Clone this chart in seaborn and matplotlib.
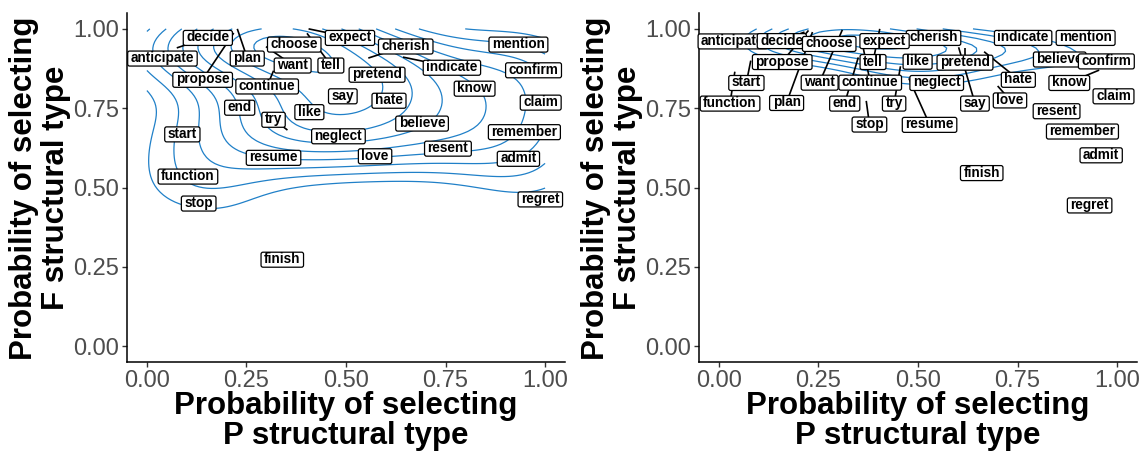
import numpy as np
import matplotlib
matplotlib.use("Agg")
import matplotlib.pyplot as plt
import matplotlib.transforms as mtransforms
from matplotlib.patches import FancyBboxPatch
import seaborn as sns

# verbs, drawn in this order (later labels sit on top of earlier ones)
words = ["anticipate", "cherish", "believe", "decide", "choose", "expect", "confirm",
         "mention", "indicate", "propose", "plan", "want", "tell", "continue",
         "pretend", "know", "say", "hate", "end", "try", "like", "claim", "start",
         "neglect", "remember", "resume", "love", "resent", "admit", "function",
         "stop", "regret", "finish"]

# left panel: P(P type), P(F type)
left_p = [0.039, 0.556, 0.691, 0.075, 0.370, 0.406, 0.971,
          0.933, 0.643, 0.218, 0.227, 0.299, 0.402, 0.318,
          0.578, 0.823, 0.492, 0.608, 0.233, 0.353, 0.408, 0.989, 0.089,
          0.481, 0.948, 0.318, 0.573, 0.756, 0.933, 0.103,
          0.130, 0.988, 0.340]
left_f = [0.908, 0.908, 0.703, 0.940, 0.952, 1.000, 0.871,
          0.952, 0.911, 0.987, 1.000, 0.944, 0.986, 0.868,
          0.857, 0.813, 0.789, 0.775, 0.753, 0.681, 0.739, 0.769, 0.669,
          0.663, 0.676, 0.595, 0.600, 0.624, 0.592, 0.536,
          0.451, 0.464, 0.274]

# right panel
right_p = [0.035, 0.539, 0.856, 0.215, 0.277, 0.416, 0.973,
           0.921, 0.764, 0.225, 0.235, 0.310, 0.404, 0.360,
           0.618, 0.955, 0.602, 0.666, 0.350, 0.456, 0.499, 0.991, 0.080,
           0.547, 0.913, 0.477, 0.700, 0.848, 0.960, 0.040,
           0.370, 0.931, 0.660]
right_f = [0.962, 0.973, 0.905, 0.990, 0.954, 0.963, 0.899,
           0.973, 0.973, 0.995, 0.990, 0.997, 1.000, 0.955,
           0.941, 0.870, 0.942, 0.928, 0.910, 0.882, 0.898, 0.789, 0.900,
           0.831, 0.678, 0.844, 0.820, 0.742, 0.603, 0.865,
           0.773, 0.445, 0.547]

# label displacement produced by the repel layout (data units)
left_repel = {"decide": (0.078, 0.033), "plan": (0.025, -0.092), "want": (0.067, -0.058),
              "tell": (0.060, -0.100), "expect": (0.104, -0.027), "propose": (-0.078, -0.146),
              "continue": (-0.016, -0.048), "cherish": (0.094, 0.038),
              "indicate": (0.123, -0.032), "try": (-0.035, 0.034)}
right_repel = {"decide": (-0.057, -0.027), "propose": (-0.066, -0.098), "plan": (-0.065, -0.222),
               "want": (-0.057, -0.165), "tell": (-0.017, -0.103), "continue": (0.020, -0.123),
               "end": (-0.034, -0.144), "try": (-0.016, -0.116), "stop": (0.008, -0.073),
               "resume": (0.052, -0.145), "say": (0.041, -0.176), "pretend": (0.0, -0.046),
               "hate": (0.086, -0.087), "love": (0.031, -0.044), "know": (-0.075, -0.039),
               "function": (-0.012, -0.099), "start": (-0.011, -0.069)}

ticks = [0.0, 0.25, 0.5, 0.75, 1.0]
tick_labels = ["0.00", "0.25", "0.50", "0.75", "1.00"]
xlab = "Probability of selecting\nP structural type"
ylab = "Probability of selecting\nF structural type"

sns.set_theme(style="white")
plt.rcParams["font.family"] = ["Liberation Sans", "DejaVu Sans"]
plt.rcParams["text.color"] = "black"


def bw_nrd(v):
    q1, q3 = np.quantile(v, [0.25, 0.75])
    return 4 * 1.06 * min(np.std(v, ddof=1), (q3 - q1) / 1.34) * len(v) ** (-0.2)


def kde2d(x, y, n=100):
    # same as MASS::kde2d on the unit square
    x, y = np.asarray(x), np.asarray(y)
    hx, hy = bw_nrd(x) / 4, bw_nrd(y) / 4
    gx = np.linspace(0, 1, n)
    gy = np.linspace(0, 1, n)
    ux = (gx[:, None] - x[None, :]) / hx
    uy = (gy[:, None] - y[None, :]) / hy
    kx = np.exp(-0.5 * ux ** 2) / np.sqrt(2 * np.pi)
    ky = np.exp(-0.5 * uy ** 2) / np.sqrt(2 * np.pi)
    z = kx @ ky.T / (len(x) * hx * hy)
    return gx, gy, z


def pretty_levels(lo, hi, ndiv=10):
    cell = (hi - lo) / ndiv
    U = 10 ** np.floor(np.log10(cell))
    unit = U
    if 2 * U - cell < 1.5 * (cell - unit):
        unit = 2 * U
        if 5 * U - cell < 2.75 * (cell - unit):
            unit = 5 * U
            if 10 * U - cell < 1.5 * (cell - unit):
                unit = 10 * U
    lv = np.arange(np.floor(lo / unit) * unit, hi + unit, unit)
    return lv[(lv > lo) & (lv < hi)]


def panel(ax, px, py, repel, skip):
    gx, gy, z = kde2d(px, py)
    lv = pretty_levels(z.min(), z.max())[skip:]
    ax.contour(gx, gy, z.T, levels=lv, colors="#2080c8", linewidths=0.9, zorder=1)

    ax.set_xlim(-0.05, 1.05)
    ax.set_ylim(-0.05, 1.05)
    ax.set_xticks(ticks, tick_labels)
    ax.set_yticks(ticks, tick_labels)
    ax.tick_params(axis="both", labelsize=17, labelcolor="#4D4D4D", color="#333333",
                   length=3.5, width=1, direction="out", bottom=True, left=True, pad=2)
    sns.despine(ax=ax)
    for s in ["left", "bottom"]:
        ax.spines[s].set_color("black")
        ax.spines[s].set_linewidth(1.1)
    ax.set_xlabel("")
    ax.set_ylabel("")

    renderer = ax.figure.canvas.get_renderer()
    for i, (w, x, y) in enumerate(zip(words, px, py)):
        dx, dy = repel.get(w, (0.0, 0.0))
        lx, ly = x + dx, y + dy
        if (dx, dy) != (0.0, 0.0):
            ax.plot([x, lx], [y, ly], color="black", lw=1.2, zorder=2,
                    solid_capstyle="butt")
        t = ax.text(lx, ly, w, ha="center", va="center", fontsize=9.8,
                    fontweight="bold", color="black", zorder=4 + 2 * i)
        bb = t.get_window_extent(renderer)
        cx, cy = (bb.x0 + bb.x1) / 2, (bb.y0 + bb.y1) / 2
        bw, bh = bb.width + 6, 15
        box = FancyBboxPatch((cx - bw / 2, cy - bh / 2 - 0.5), bw, bh,
                             boxstyle="round,pad=0,rounding_size=2",
                             facecolor="white", edgecolor="black", linewidth=0.9,
                             transform=mtransforms.IdentityTransform(),
                             zorder=3 + 2 * i, clip_on=False)
        ax.add_patch(box)


fig = plt.figure(figsize=(11.45, 4.51), dpi=100)
ax1 = fig.add_axes([127 / 1145, 89 / 451, 438 / 1145, 349 / 451])
ax2 = fig.add_axes([699 / 1145, 89 / 451, 438 / 1145, 349 / 451])
fig.canvas.draw()

panel(ax1, left_p, left_f, left_repel, skip=2)
panel(ax2, right_p, right_f, right_repel, skip=4)

for cx in [346, 918]:
    fig.text(cx / 1145, 1 - 421 / 451, xlab, ha="center", va="center", color="black",
             fontsize=22.5, fontweight="bold", linespacing=1.0)
for cx in [40, 612]:
    fig.text(cx / 1145, 1 - 188 / 451, ylab, ha="center", va="center", rotation=90,
             color="black", fontsize=22.5, fontweight="bold", linespacing=1.05)

fig.savefig("out.png", dpi=100)
